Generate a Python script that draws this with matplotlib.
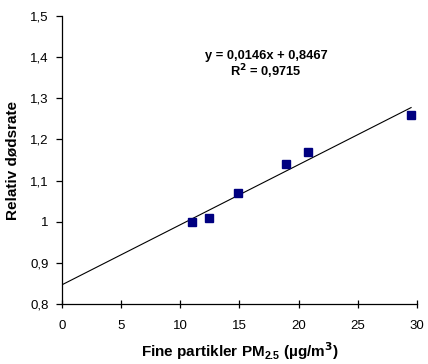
import matplotlib
matplotlib.use('Agg')
import matplotlib.pyplot as plt
import numpy as np

plt.rcParams['font.family'] = ['Liberation Sans', 'DejaVu Sans']

# PM2.5 (ug/m3) vs relative death rate
pm25 = [11.0, 12.4, 14.9, 18.9, 20.8, 29.5]
rate = [1.00, 1.01, 1.07, 1.14, 1.17, 1.26]
slope, intercept = 0.0146, 0.8467
xticks = [0, 5, 10, 15, 20, 25, 30]
yticks = [0.8, 0.9, 1.0, 1.1, 1.2, 1.3, 1.4, 1.5]
ytick_labels = ['0,8', '0,9', '1', '1,1', '1,2', '1,3', '1,4', '1,5']

fig = plt.figure(figsize=(4.28, 3.64), dpi=100)
ax = fig.add_axes([62/428, 60/364, 355/428, 288/364])

xx = np.array([0, max(pm25)])
ax.plot(xx, slope * xx + intercept, color='black', lw=0.8)
ax.plot(pm25, rate, 's', color='#000080', ms=5.8, mec='#000080')

ax.set_xlim(0, 30)
ax.set_ylim(0.8, 1.5)
ax.set_xticks(xticks)
ax.set_xticklabels([str(t) for t in xticks])
ax.set_yticks(yticks)
ax.set_yticklabels(ytick_labels)
ax.spines['top'].set_visible(False)
ax.spines['right'].set_visible(False)
for s in ['left', 'bottom']:
    ax.spines[s].set_linewidth(0.9)
ax.tick_params(axis='y', direction='out', length=4, width=0.9, labelsize=9.5, pad=5.5)
ax.tick_params(axis='x', direction='inout', length=6, width=0.9, labelsize=9.5, pad=8.5)

ax.set_xlabel('Fine partikler PM$_{\\mathregular{2.5}}$ (µg/m$^{\\mathbf{3}}$)', fontsize=11, fontweight='bold', labelpad=6)
ax.set_ylabel('Relativ dødsrate', fontsize=11, fontweight='bold', labelpad=8)

ax.text(0.575, 0.861, 'y = 0,0146x + 0,8467', transform=ax.transAxes, ha='center', va='center',
        fontsize=9.3, fontweight='bold')
ax.text(0.575, 0.806, 'R$^{\\mathbf{2}}$ = 0,9715', transform=ax.transAxes, ha='center', va='center',
        fontsize=9.3, fontweight='bold')

fig.savefig('out.png', dpi=100)
